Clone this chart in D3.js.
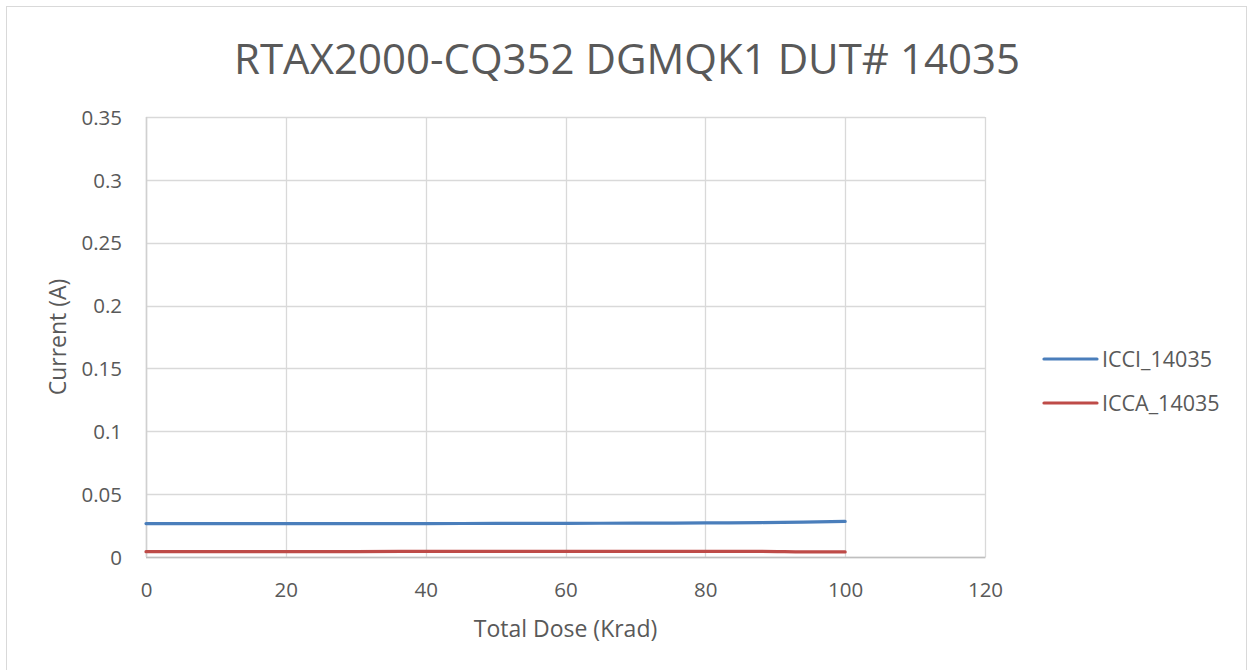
<!DOCTYPE html>
<html>
<head>
<meta charset="utf-8">
<script src="https://cdn.jsdelivr.net/npm/d3@7"></script>
<style>
  html, body { margin: 0; padding: 0; background: #fff; }
  svg { display: block; }
  text { font-family: "Open Sans", sans-serif; fill: #595959; }
</style>
</head>
<body>
<svg id="chart" width="1251" height="670"></svg>
<script>
const title = "RTAX2000-CQ352 DGMQK1 DUT# 14035";
const xLabel = "Total Dose (Krad)";
const yLabel = "Current (A)";
const seriesNames = ["ICCI_14035", "ICCA_14035"];
const seriesColors = ["#4a7ebb", "#be4b48"];
const xTicks = [0, 20, 40, 60, 80, 100, 120];
const yTicks = [0, 0.05, 0.1, 0.15, 0.2, 0.25, 0.3, 0.35];
const dose = [0, 10, 20, 30, 40, 50, 60, 70, 80, 88, 94, 100];
const icci = [0.0266, 0.0266, 0.0266, 0.0266, 0.0266, 0.0267, 0.0268, 0.0269, 0.0271, 0.0274, 0.0278, 0.0283];
const icca = [0.0042, 0.0042, 0.0042, 0.0043, 0.0045, 0.0045, 0.0045, 0.0045, 0.0045, 0.0045, 0.0041, 0.0040];

const svg = d3.select("#chart");

// chart area border
svg.append("rect").attr("x", 6.5).attr("y", 6.5).attr("width", 1240).attr("height", 680)
  .attr("fill", "#fff").attr("stroke", "#d9d9d9").attr("stroke-width", 1);

const L = 146, R = 985, T = 117, B = 557;
const x = d3.scaleLinear().domain([0, 120]).range([L, R]);
const y = d3.scaleLinear().domain([0, 0.35]).range([B, T]);

// gridlines
const g = svg.append("g");
g.selectAll(".vg").data(xTicks).join("line")
  .attr("x1", d => Math.round(x(d)) + 0.5).attr("x2", d => Math.round(x(d)) + 0.5)
  .attr("y1", T).attr("y2", B)
  .attr("stroke", "#d9d9d9").attr("stroke-width", 1.3);
g.selectAll(".hg").data(yTicks).join("line")
  .attr("y1", d => Math.round(y(d)) + 0.5).attr("y2", d => Math.round(y(d)) + 0.5)
  .attr("x1", L).attr("x2", R)
  .attr("stroke", "#d9d9d9").attr("stroke-width", 1.3);
// axis lines
g.append("line").attr("x1", L).attr("x2", R + 0.5).attr("y1", Math.round(B) + 0.5).attr("y2", Math.round(B) + 0.5)
  .attr("stroke", "#bfbfbf").attr("stroke-width", 1.5);
g.append("line").attr("x1", Math.round(L) + 0.5).attr("x2", Math.round(L) + 0.5).attr("y1", T).attr("y2", B)
  .attr("stroke", "#d0d0d0").attr("stroke-width", 1.5);

// axes via d3
const xAxis = d3.axisBottom(x).tickValues(xTicks).tickSize(0).tickPadding(0).tickFormat(d3.format("d"));
const xa = svg.append("g").attr("transform", `translate(0,${B})`).call(xAxis);
xa.select(".domain").remove();
xa.selectAll("text").attr("font-size", 20.5).attr("fill", "#595959").attr("dy", null).attr("y", 40)
  .style("font-family", "'Open Sans', sans-serif");

const yAxis = d3.axisLeft(y).tickValues(yTicks).tickSize(0).tickPadding(0).tickFormat(d => d === 0 ? "0" : String(+d.toFixed(2)));
const ya = svg.append("g").attr("transform", `translate(${L},0)`).call(yAxis);
ya.select(".domain").remove();
ya.selectAll("text").attr("font-size", 20.5).attr("fill", "#595959").attr("x", -24).attr("dy", "0.35em")
  .style("font-family", "'Open Sans', sans-serif");

// lines
const series = [icci, icca];
const line = d3.line().x((d, i) => x(dose[i])).y(d => y(d)).curve(d3.curveMonotoneX);
series.forEach((s, k) => {
  svg.append("path").datum(s).attr("d", line)
    .attr("fill", "none").attr("stroke", seriesColors[k]).attr("stroke-width", 3.2)
    .attr("stroke-linecap", "round");
});

// title
svg.append("text").attr("x", 627).attr("y", 74).attr("text-anchor", "middle")
  .attr("font-size", 42).text(title);

// axis titles
svg.append("text").attr("x", (L + R) / 2).attr("y", 637).attr("text-anchor", "middle")
  .attr("font-size", 23).text(xLabel);
svg.append("text").attr("transform", `translate(66,${(T + B) / 2}) rotate(-90)`).attr("text-anchor", "middle")
  .attr("font-size", 23).text(yLabel);

// legend
const legY = [359, 403];
seriesNames.forEach((n, k) => {
  svg.append("line").attr("x1", 1044).attr("x2", 1097).attr("y1", legY[k]).attr("y2", legY[k])
    .attr("stroke", seriesColors[k]).attr("stroke-width", 3.2).attr("stroke-linecap", "round");
  svg.append("text").attr("x", 1102).attr("y", legY[k]).attr("dy", "0.35em")
    .attr("font-size", 21.5).text(n);
});
</script>
</body>
</html>
